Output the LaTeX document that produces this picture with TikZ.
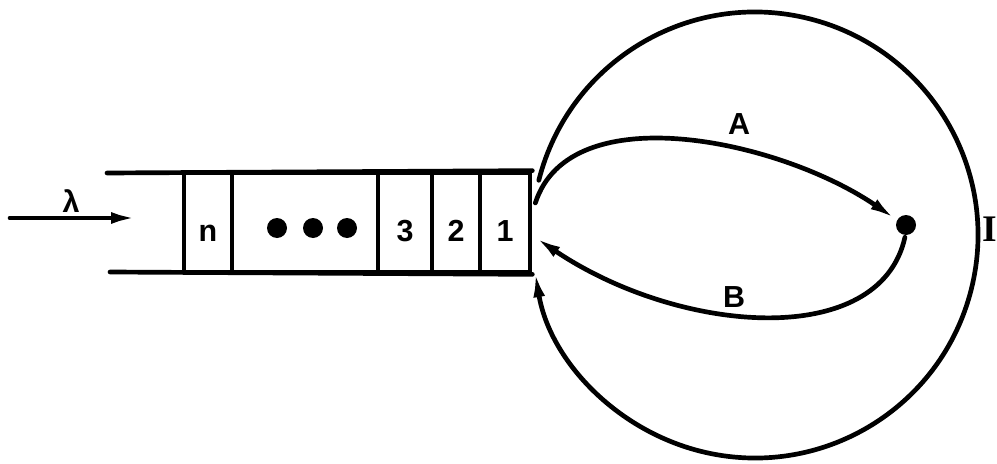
\documentclass[tikz,border=0pt]{standalone}
\usepackage{fontspec}
\setmainfont{Liberation Sans}
\newfontfamily\serifI{Liberation Serif}
\usetikzlibrary{arrows.meta,calc}
\begin{document}
\begin{tikzpicture}[x=0.03cm,y=0.03cm, line width=4pt, line cap=round, line join=round,
  cell/.style={draw, rectangle, inner sep=0pt, minimum height=2.97cm,
    text height=32pt, text depth=0pt, font=\fontsize{26}{30}\selectfont\bfseries},
  lbl/.style={inner sep=0pt, font=\fontsize{26}{30}\selectfont\bfseries},
  arr/.style={-{Latex[length=22pt,width=10pt]}},
  bigdot/.style={circle, fill, inner sep=0pt, minimum size=0.6cm}]
\useasboundingbox (0,0) rectangle (997,463);
% queue cells
\node[cell, minimum width=1.44cm] (cn) at (208,240.5) {n};
\node[cell, minimum width=4.38cm] (cdots) at (305,240.5) {};
\node[cell, minimum width=1.62cm] (c3) at (405,240.5) {3};
\node[cell, minimum width=1.44cm] (c2) at (456,240.5) {2};
\node[cell, minimum width=1.50cm] (c1) at (505,240.5) {1};
\node[bigdot] (d1) at (277,235) {};
\node[bigdot] (d2) at (313,235) {};
\node[bigdot] (d3) at (347,235) {};
% queue walls
\coordinate (tl) at (107,290);
\coordinate (bl) at (110,191);
\draw (tl) -- (c1.north east);
\draw (bl) -- (c1.south east);
% arrival
\coordinate (ain) at (10,245);
\coordinate (aout) at (137,245);
\draw[arr] (ain) -- (aout);
\node[lbl] (lam) at (71,262) {λ};
% server circle
\coordinate (C) at (755,228);
\draw[arr] ($(C)+(165.8:223)$) arc[start angle=165.8, end angle=-170.6, radius=223];
\node[inner sep=0pt, font=\fontsize{32}{36}\selectfont\serifI\bfseries] (I) at (990,234) {I};
% dot and paths
\node[bigdot] (dot) at (906,238) {};
\draw[arr] ($(c1.east)+(3,19.5)$) .. controls (570,368) and (780,323) .. (dot.150);
\draw[arr] (dot.265) .. controls (880,113) and (680,128) .. ($(c1.east)+(3,-15)$);
\node[lbl] (A) at (739,339) {A};
\node[lbl] (B) at (734,165.5) {B};
\end{tikzpicture}
\end{document}
